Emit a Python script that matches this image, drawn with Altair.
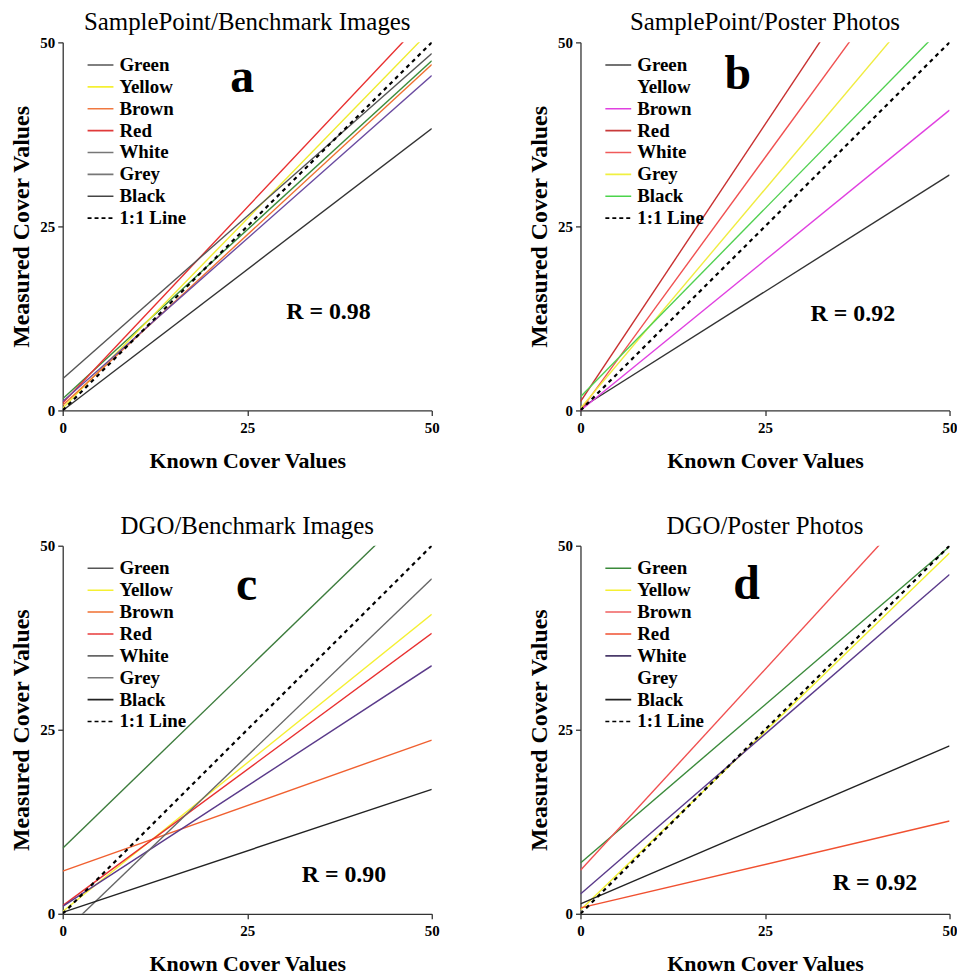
import altair as alt
import pandas as pd

# ---------------- data ----------------
labels = ["Green", "Yellow", "Brown", "Red", "White", "Grey", "Black", "1:1 Line"]
panel_titles = ["SamplePoint/Benchmark Images", "SamplePoint/Poster Photos",
                "DGO/Benchmark Images", "DGO/Poster Photos"]
panel_letters = ["a", "b", "c", "d"]
r_texts = ["R = 0.98", "R = 0.92", "R = 0.90", "R = 0.92"]
known_x = [0, 50]
tick_vals = [0, 25, 50]

# measured value of each fitted line at known = 0 and known = 50 (None = not drawn)
a_y0 = [1.6, 0.3, 0.7, 1.0, 1.2, 4.3, 0.0, 0.0]
a_y50 = [47.5, 51.8, 47.0, 54.2, 45.5, 48.5, 38.3, 50.0]
b_y0 = [0.3, None, 0.0, 1.2, 0.0, 0.3, 1.85, 0.0]
b_y50 = [32.0, None, 40.8, 76.5, 68.7, 59.8, 53.0, 50.0]
c_y0 = [8.9, 0.3, 5.8, 1.1, 1.0, -2.6, 0.2, 0.0]
c_y50 = [57.5, 40.7, 23.6, 38.1, 33.7, 45.5, 16.9, 50.0]
d_y0 = [6.9, 0.5, 5.9, 0.8, 2.7, None, 1.35, 0.0]
d_y50 = [49.9, 49.0, 60.5, 12.6, 46.1, None, 22.8, 50.0]

a_line = ["#3c8c3c", "#f0ec30", "#f07030", "#e83030", "#6a4aa0", "#555555", "#333333", "#000000"]
b_line = ["#333333", "#ffffff", "#e040e0", "#c83030", "#f05050", "#f0ec40", "#50d050", "#000000"]
c_line = ["#3c7c3c", "#f5f032", "#f06030", "#e83030", "#5a3a8a", "#666666", "#222222", "#000000"]
d_line = ["#3a8a3a", "#f0f032", "#f05050", "#f05030", "#5a3a8a", "#ffffff", "#222222", "#000000"]

a_leg = ["#555555", "#f5f032", "#f07840", "#e03a3a", "#777777", "#777777", "#444444", "#000000"]
b_leg = ["#444444", "#ffffff", "#e040e0", "#c83a3a", "#f05a5a", "#f0f040", "#4cd44c", "#000000"]
c_leg = ["#555555", "#f5f032", "#f07030", "#e83a3a", "#666666", "#777777", "#222222", "#000000"]
d_leg = ["#3a8a3a", "#f5f032", "#f06060", "#f05030", "#4a3a6a", "#ffffff", "#222222", "#000000"]

SERIF = "Liberation Serif"

# (letter x, letter y, R x, R y) in data units
annot_pos = [(24.3, 45.1, 36.0, 13.4), (21.3, 45.5, 36.9, 13.1),
             (24.9, 44.5, 38.1, 5.3), (22.5, 44.7, 39.9, 4.2)]


def panel(i, y0, y50, line_cols, leg_cols):
    rows = []
    for lab, a, b, col in zip(labels, y0, y50, line_cols):
        if a is None:
            continue
        rows.append(dict(label=lab, x=known_x[0], y=a, col=col))
        rows.append(dict(label=lab, x=known_x[1], y=b, col=col))
    df = pd.DataFrame(rows)

    xs = alt.X("x:Q", scale=alt.Scale(domain=[0, 50], nice=False),
               axis=alt.Axis(values=tick_vals, title="Known Cover Values"))
    ys = alt.Y("y:Q", scale=alt.Scale(domain=[0, 50], nice=False),
               axis=alt.Axis(values=tick_vals, title="Measured Cover Values"))
    base = alt.Chart(df)

    solid = base.transform_filter(alt.datum.label != "1:1 Line").mark_line(
        clip=True, strokeWidth=1.4).encode(
        x=xs, y=ys, detail="label:N", stroke=alt.Stroke("col:N", scale=None))
    dashed = base.transform_filter(alt.datum.label == "1:1 Line").mark_line(
        clip=True, strokeWidth=2.2, strokeDash=[4, 4], color="black").encode(x=xs, y=ys)

    leg = alt.Legend(title=None, orient="none", legendX=24, legendY=12,
                     symbolType="stroke", symbolSize=676, symbolStrokeWidth=1.6,
                     labelFont=SERIF, labelFontSize=19, labelFontWeight="bold",
                     labelColor="black", rowPadding=0, clipHeight=21.4,
                     labelOffset=5, padding=0)
    dashes = [[1, 0]] * 7 + [[4, 3]]
    legend_layer = base.transform_filter("datum.x > 1000").mark_line().encode(
        x=xs, y=ys,
        color=alt.Color("label:N", scale=alt.Scale(domain=labels, range=leg_cols), legend=leg),
        strokeDash=alt.StrokeDash("label:N", scale=alt.Scale(domain=labels, range=dashes), legend=leg),
    )

    lx, ly, rx, ry = annot_pos[i]
    letter = alt.Chart(pd.DataFrame({"t": [panel_letters[i]]})).mark_text(
        font=SERIF, fontSize=48, fontWeight="bold", color="black",
        align="center", baseline="middle").encode(
        x=alt.datum(lx), y=alt.datum(ly), text="t:N")
    rtext = alt.Chart(pd.DataFrame({"t": [r_texts[i]]})).mark_text(
        font=SERIF, fontSize=24, fontWeight="bold", color="black",
        align="center", baseline="middle").encode(
        x=alt.datum(rx), y=alt.datum(ry), text="t:N")

    return alt.layer(solid, dashed, legend_layer, letter, rtext).properties(
        width=371, height=370,
        title=alt.Title(panel_titles[i], font=SERIF, fontSize=25,
                        fontWeight="normal", color="black", offset=0))


pa = panel(0, a_y0, a_y50, a_line, a_leg)
pb = panel(1, b_y0, b_y50, b_line, b_leg)
pc = panel(2, c_y0, c_y50, c_line, c_leg)
pd_ = panel(3, d_y0, d_y50, d_line, d_leg)

row1 = alt.hconcat(pa, pb, spacing=88.5).resolve_scale(color="independent", strokeDash="independent")
row2 = alt.hconcat(pc, pd_, spacing=88.5).resolve_scale(color="independent", strokeDash="independent")

chart = alt.vconcat(row1, row2, spacing=43).resolve_scale(
    color="independent", strokeDash="independent"
).properties(
    padding={"left": 2, "top": 0, "right": 0, "bottom": 0}
).configure_view(stroke=None).configure_axis(
    grid=False, domainColor="#333333", domainWidth=1.3, tickColor="#333333",
    tickWidth=1.3, tickSize=5, labelFont=SERIF, labelFontSize=15,
    labelFontWeight="bold", labelColor="black", labelFlush=False, titleFont=SERIF,
    titleFontWeight="bold", titleColor="black",
).configure_axisX(labelPadding=5, titlePadding=15, titleFontSize=22).configure_axisY(
    labelPadding=3, titlePadding=6, titleFontSize=24)

chart.save("out.html", embed_options={"renderer": "svg", "actions": False})
